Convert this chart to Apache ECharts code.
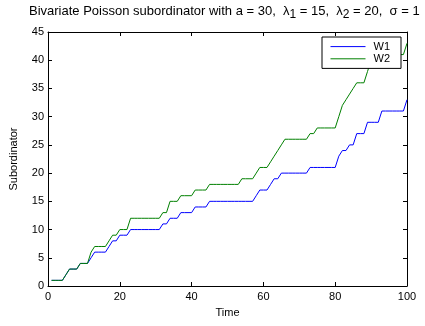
<!DOCTYPE html>
<html>
<head>
<meta charset="utf-8">
<script src="https://cdn.jsdelivr.net/npm/echarts@6/dist/echarts.min.js"></script>
<style>
html,body{margin:0;padding:0;background:#fff;}
#chart{width:425px;height:326px;}
</style>
</head>
<body>
<div id="chart"></div>
<script>
var time = [1,2,3,4,5,6,7,8,9,10,11,12,13,14,15,16,17,18,19,20,
  21,22,23,24,25,26,27,28,29,30,31,32,33,34,35,36,37,38,39,40,
  41,42,43,44,45,46,47,48,49,50,51,52,53,54,55,56,57,58,59,60,
  61,62,63,64,65,66,67,68,69,70,71,72,73,74,75,76,77,78,79,80,
  81,82,83,84,85,86,87,88,89,90,91,92,93,94,95,96,97,98,99,100];
var w1 = [1,1,1,1,2,3,3,3,4,4,
  4,5,6,6,6,6,7,8,8,9,
  9,9,10,10,10,10,10,10,10,10,
  10,11,11,12,12,12,13,13,13,13,
  14,14,14,14,15,15,15,15,15,15,
  15,15,15,15,15,15,15,16,17,17,
  17,18,19,19,20,20,20,20,20,20,
  20,20,21,21,21,21,21,21,21,21,
  23,24,24,25,25,27,27,27,29,29,
  29,29,31,31,31,31,31,31,31,33];
var w2 = [1,1,1,1,2,3,3,3,4,4,
  4,6,7,7,7,7,8,9,9,10,
  10,10,12,12,12,12,12,12,12,12,
  12,13,13,15,15,15,16,16,16,16,
  17,17,17,17,18,18,18,18,18,18,
  18,18,18,19,19,19,19,20,21,21,
  21,22,23,24,25,26,26,26,26,26,
  26,26,27,27,28,28,28,28,28,28,
  30,32,33,34,35,36,36,36,38,40,
  41,41,41,41,41,41,41,41,41,43];
var seriesNames = ['W1', 'W2'];
var xTicks = [0, 20, 40, 60, 80, 100];
var yTicks = [0, 5, 10, 15, 20, 25, 30, 35, 40, 45];

function pairs(ys) { return time.map(function (t, i) { return [t, ys[i]]; }); }

var FONT = 'Liberation Sans, Arial, Helvetica, sans-serif';
var chart = echarts.init(document.getElementById('chart'));
var tickLabel = { fontFamily: FONT, fontSize: 11, color: '#000' };

chart.setOption({
  animation: false,
  backgroundColor: '#fff',
  title: {
    text: '{t|Bivariate Poisson subordinator with a = 30,  λ}{s|1}{t| = 15,  λ}{s|2}{t| = 20,  σ = 1}',
    left: 29,
    top: 4,
    padding: 0,
    textStyle: {
      fontWeight: 'normal',
      rich: {
        t: { fontFamily: FONT, fontSize: 13, fontWeight: 'normal', color: '#000', lineHeight: 15 },
        s: { fontFamily: FONT, fontSize: 12, fontWeight: 'normal', color: '#000', lineHeight: 13, padding: [6, 0, 0, 0] }
      }
    }
  },
  legend: {
    data: seriesNames,
    orient: 'vertical',
    left: 322,
    top: 37,
    itemWidth: 35,
    itemHeight: 14,
    itemGap: 1,
    padding: [4, 11, 4, 8],
    borderColor: '#000',
    borderWidth: 1,
    backgroundColor: '#fff',
    itemStyle: { opacity: 0 },
    lineStyle: { width: 1 },
    textStyle: { fontFamily: FONT, fontSize: 11, color: '#000', padding: [0, 0, 0, 3] }
  },
  grid: { left: 47, right: 18, top: 32, bottom: 40, show: false },
  xAxis: [{
    type: 'value', min: xTicks[0], max: xTicks[xTicks.length - 1], interval: 20,
    name: 'Time', nameLocation: 'middle', nameGap: 21,
    nameTextStyle: { fontFamily: FONT, fontSize: 11, color: '#000' },
    axisLine: { show: true, onZero: false, lineStyle: { color: '#000', width: 1 } },
    axisTick: { show: true, inside: true, length: 4, lineStyle: { color: '#000' } },
    axisLabel: Object.assign({ margin: 5 }, tickLabel),
    splitLine: { show: false }
  }, {
    type: 'value', position: 'top', min: xTicks[0], max: xTicks[xTicks.length - 1], interval: 20,
    axisLine: { show: true, onZero: false, lineStyle: { color: '#000', width: 1 } },
    axisTick: { show: true, inside: true, length: 4, lineStyle: { color: '#000' } },
    axisLabel: { show: false },
    splitLine: { show: false }
  }],
  yAxis: [{
    type: 'value', min: yTicks[0], max: yTicks[yTicks.length - 1], interval: 5,
    name: 'Subordinator', nameLocation: 'middle', nameGap: 29,
    nameTextStyle: { fontFamily: FONT, fontSize: 11, color: '#000' },
    axisLine: { show: true, onZero: false, lineStyle: { color: '#000', width: 1 } },
    axisTick: { show: true, inside: true, length: 4, lineStyle: { color: '#000' } },
    axisLabel: Object.assign({ margin: 4 }, tickLabel),
    splitLine: { show: false }
  }, {
    type: 'value', position: 'right', min: yTicks[0], max: yTicks[yTicks.length - 1], interval: 5,
    axisLine: { show: true, onZero: false, lineStyle: { color: '#000', width: 1 } },
    axisTick: { show: true, inside: true, length: 4, lineStyle: { color: '#000' } },
    axisLabel: { show: false },
    splitLine: { show: false }
  }],
  series: [{
    name: seriesNames[0], type: 'line', data: pairs(w1),
    symbol: 'none', lineStyle: { color: '#0000ff', width: 1 }, itemStyle: { color: '#0000ff' }
  }, {
    name: seriesNames[1], type: 'line', data: pairs(w2),
    symbol: 'none', lineStyle: { color: '#008000', width: 1 }, itemStyle: { color: '#008000' }
  }]
});
</script>
</body>
</html>
